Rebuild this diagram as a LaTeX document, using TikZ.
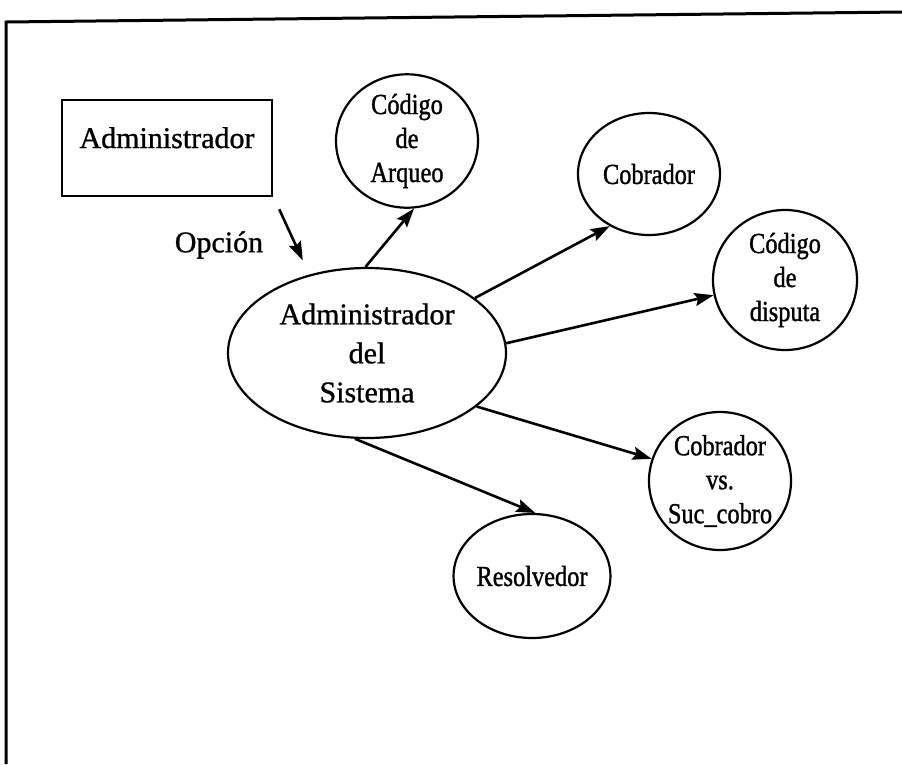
\documentclass[tikz,border=0pt]{standalone}
\usepackage{fontspec}
\setmainfont{Liberation Serif}[FakeBold=1]
\newfontfamily\narrowserif[FakeStretch=0.84,FakeBold=1.2]{Liberation Serif}
\usetikzlibrary{shapes.geometric,arrows.meta}
\tikzset{
  bigtext/.style={font=\fontsize{30}{39}\selectfont},
  smalltext/.style={font=\narrowserif\fontsize{29}{34}\selectfont},
  oval/.style={draw, ellipse, line width=2.2pt, inner sep=0pt, align=center},
  smalloval/.style={oval, smalltext},
  conn/.style={line width=2.6pt, -{Stealth[length=19pt,width=13pt,inset=3pt]}},
}
\begin{document}
\begin{tikzpicture}[x=1pt,y=-1pt]
\useasboundingbox (0,0) rectangle (902,764);
% frame
\draw[line width=3pt] (902,12) -- (6,22) -- (6,764);
% nodes
\node[draw, line width=2.4pt, minimum width=210pt, minimum height=96pt,
      bigtext, text height=21pt, text depth=21pt, inner sep=0pt] (adm) at (167,148) {Administrador};
\node[bigtext] (opcion) at (219,245) {Opción};
\node[oval, bigtext, minimum width=278pt, minimum height=170pt] (big) at (367,353)
     {Administrador\\del\\Sistema};
\node[smalloval, minimum width=142pt, minimum height=132pt] (arq) at (407,141) {Código\\de\\Arqueo};
\node[smalloval, minimum width=142pt, minimum height=122pt] (cob) at (649,174) {Cobrador};
\node[smalloval, minimum width=144pt, minimum height=140pt] (disp) at (785,280) {Código\\de\\disputa};
\node[smalloval, minimum width=142pt, minimum height=138pt, inner xsep=-4pt] (cvs) at (720,481) {Cobrador\\vs.\\Suc\_cobro};
\node[smalloval, minimum width=142pt, minimum height=124pt] (res) at (532,576) {Resolvedor};
% connectors
\draw[conn] ([shift={(6pt,-12pt)}]adm.south east) -- ([yshift=16pt]big.130);
\draw[conn] (big.91) -- (arq.276);
\draw[conn] (big.27) -- (cob.233);
\draw[conn] (big.4) -- (disp.192);
\draw[conn] (big.-26) -- (cvs.162);
\draw[conn] (big.-98) -- (res.87);
\end{tikzpicture}
\end{document}
